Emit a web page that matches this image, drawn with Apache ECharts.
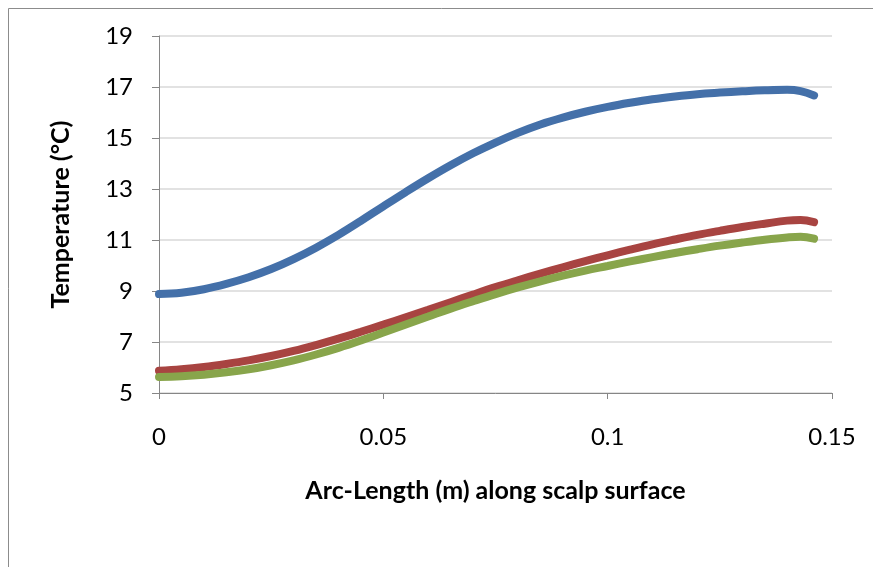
<!DOCTYPE html>
<html>
<head>
<meta charset="utf-8">
<script src="https://cdn.jsdelivr.net/npm/echarts@6/dist/echarts.min.js"></script>
<style>
  html, body { margin: 0; padding: 0; background: #fff; }
  #chart { width: 873px; height: 567px; }
</style>
</head>
<body>
<div id="chart"></div>
<script>
// arc length along scalp (m)
var arcLen = [0, 0.005, 0.01, 0.015, 0.02, 0.025, 0.03, 0.035, 0.04, 0.045, 0.05, 0.055, 0.06, 0.065, 0.07, 0.075,
              0.08, 0.085, 0.09, 0.095, 0.1, 0.105, 0.11, 0.115, 0.12, 0.125, 0.13, 0.135, 0.14, 0.143, 0.146];
// temperatures (°C)
var tempBlue  = [8.88, 8.93, 9.07, 9.28, 9.54, 9.86, 10.25, 10.7, 11.2, 11.75, 12.32, 12.88, 13.42, 13.93, 14.4, 14.82,
                 15.2, 15.53, 15.8, 16.03, 16.22, 16.38, 16.52, 16.63, 16.72, 16.78, 16.83, 16.87, 16.89, 16.84, 16.67];
var tempRed   = [5.87, 5.93, 6.02, 6.14, 6.28, 6.45, 6.65, 6.88, 7.13, 7.4, 7.68, 7.97, 8.26, 8.56, 8.86, 9.15,
                 9.42, 9.68, 9.93, 10.17, 10.4, 10.62, 10.83, 11.02, 11.2, 11.36, 11.51, 11.64, 11.76, 11.78, 11.7];
var tempGreen = [5.63, 5.66, 5.72, 5.81, 5.93, 6.09, 6.28, 6.51, 6.77, 7.06, 7.37, 7.69, 8.0, 8.31, 8.6, 8.88,
                 9.14, 9.38, 9.6, 9.8, 9.98, 10.16, 10.33, 10.49, 10.64, 10.78, 10.9, 11.01, 11.1, 11.13, 11.05];
var yTicks = [5, 7, 9, 11, 13, 15, 17, 19];
var xTicks = [0, 0.05, 0.1, 0.15];

var pairs = function (ys) {
    return arcLen.map(function (x, i) { return [x, ys[i]]; });
};

var FONT = 'Lato, "Open Sans", sans-serif';
var mkLine = function (name, ys, color) {
    return {
        name: name,
        type: 'line',
        data: pairs(ys),
        smooth: 0.4,
        showSymbol: false,
        lineStyle: { color: color, width: 8, cap: 'round' },
        itemStyle: { color: color },
        z: 3
    };
};

var chart = echarts.init(document.getElementById('chart'));
chart.setOption({
    animation: false,
    backgroundColor: '#fff',
    grid: { left: 159, right: 41, top: 36, bottom: 174 },
    graphic: [{
        type: 'rect',
        shape: { x: 8.5, y: 8.5, width: 900, height: 600 },
        style: { fill: 'none', stroke: '#8c8c8c', lineWidth: 1 },
        silent: true
    }],
    xAxis: {
        type: 'value',
        min: xTicks[0],
        max: xTicks[xTicks.length - 1],
        interval: 0.05,
        name: 'Arc-Length (m) along scalp surface',
        nameLocation: 'middle',
        nameGap: 85,
        nameTextStyle: { fontFamily: FONT, fontWeight: 'bold', fontSize: 25, color: '#000' },
        axisLine: { lineStyle: { color: '#868686', width: 1 } },
        axisTick: { show: true, length: 6, lineStyle: { color: '#868686' } },
        axisLabel: { fontFamily: FONT, fontSize: 24, color: '#000', margin: 32 },
        splitLine: { show: false }
    },
    yAxis: {
        type: 'value',
        min: yTicks[0],
        max: yTicks[yTicks.length - 1],
        interval: 2,
        name: 'Temperature (°C)',
        nameLocation: 'middle',
        nameRotate: 90,
        nameGap: 86,
        nameTextStyle: { fontFamily: FONT, fontWeight: 'bold', fontSize: 25, color: '#000' },
        axisLine: { show: true, lineStyle: { color: '#868686', width: 1 } },
        axisTick: { show: true, length: 7, lineStyle: { color: '#868686' } },
        axisLabel: { fontFamily: FONT, fontSize: 24, color: '#000', margin: 26 },
        splitLine: { show: true, lineStyle: { color: '#d9d9d9', width: 1.5 } }
    },
    series: [
        mkLine('Blue', tempBlue, '#4470a9'),
        mkLine('Red', tempRed, '#a84441'),
        mkLine('Green', tempGreen, '#88a54b')
    ]
});
</script>
</body>
</html>
